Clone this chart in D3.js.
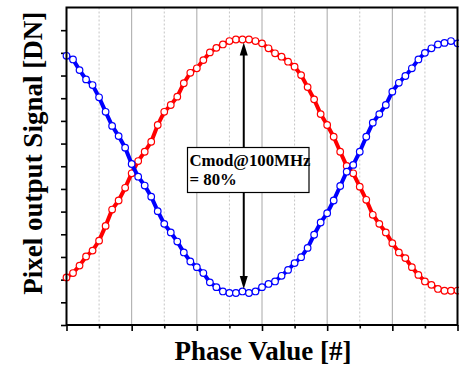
<html>
<head>
<meta charset="utf-8">
<script src="https://cdnjs.cloudflare.com/ajax/libs/d3/7.8.5/d3.min.js"></script>
<style>
  body { margin: 0; background: #fff; }
  text { font-family: "Times New Roman", "Liberation Serif", serif; font-weight: bold; }
</style>
</head>
<body>
<div id="chart"></div>
<script>
// phase steps 0..60, signal in DN
var phase = d3.range(0, 61);
var redSignal = [210, 229, 262, 302, 328, 372, 437, 509, 549, 605,
  669, 723, 764, 808, 882, 940, 970, 1007, 1066, 1112,
  1132, 1168, 1202, 1222, 1237, 1252, 1259, 1259, 1259, 1252,
  1242, 1220, 1198, 1183, 1161, 1139, 1102, 1049, 995, 930,
  882, 830, 764, 701, 669, 610, 552, 486, 446, 408,
  361, 320, 295, 255, 221, 192, 177, 159, 151, 151, 152];
var blueSignal = [1187, 1171, 1124, 1083, 1058, 1004, 940, 878, 833, 782,
  710, 654, 615, 566, 502, 446, 408, 368, 320, 280,
  255, 229, 188, 167, 148, 141, 141, 148, 141, 148,
  167, 181, 192, 217, 243, 273, 299, 340, 398, 452,
  493, 549, 613, 676, 706, 764, 830, 892, 930, 970,
  1029, 1068, 1098, 1132, 1171, 1200, 1220, 1237, 1244, 1252, 1242];
var majorX = [0, 10, 20, 30, 40, 50, 60];
var minorX = [5, 15, 25, 35, 45, 55];
var yTicks = d3.range(0, 1400, 100);
var annotation = ["Cmod@100MHz", "= 80%"];

var W = 459, H = 367;
var pLeft = 66.5, pRight = 457.5, pTop = 7.5, pBottom = 325;

var svg = d3.select("#chart").append("svg")
  .attr("width", W).attr("height", H);

var x = d3.scaleLinear().domain([0, 60]).range([pLeft, pRight]);
var y = d3.scaleLinear().domain([0, 1400]).range([pBottom, pTop]);

// vertical grid
svg.selectAll(".gmaj").data(majorX.slice(1, -1)).enter().append("line")
  .attr("x1", d => x(d)).attr("x2", d => x(d))
  .attr("y1", pTop).attr("y2", pBottom)
  .style("stroke", "#a8a8a8").style("stroke-width", 1);
svg.selectAll(".gmin").data(minorX).enter().append("line")
  .attr("x1", d => x(d)).attr("x2", d => x(d))
  .attr("y1", pTop).attr("y2", pBottom)
  .style("stroke", "#c4c4c4").style("stroke-width", 1)
  .style("stroke-dasharray", "2,2");

// axes (ticks only, no labels)
svg.append("g").attr("transform", "translate(0," + pBottom + ")")
  .call(d3.axisBottom(x).tickValues(majorX).tickSize(6).tickFormat(""))
  .call(g => g.select(".domain").remove())
  .selectAll("line").style("stroke-width", 1.6);
svg.append("g").attr("transform", "translate(0," + pBottom + ")")
  .call(d3.axisBottom(x).tickValues(minorX).tickSize(3.5).tickFormat(""))
  .call(g => g.select(".domain").remove())
  .selectAll("line").style("stroke-width", 1.6);
svg.append("g").attr("transform", "translate(" + pLeft + ",0)")
  .call(d3.axisLeft(y).tickValues(yTicks).tickSize(5.5).tickFormat(""))
  .call(g => g.select(".domain").remove())
  .selectAll("line").style("stroke-width", 1.6);

// curves
function drawSeries(vals, color) {
  var pts = phase.map((p, i) => [p, vals[i]]);
  var line = d3.line().x(d => x(d[0])).y(d => y(d[1]));
  svg.append("path").datum(pts).attr("d", line)
    .style("fill", "none").style("stroke", color).style("stroke-width", 4);
  svg.selectAll(null).data(pts).enter().append("circle")
    .attr("cx", d => x(d[0])).attr("cy", d => y(d[1])).attr("r", 3.3)
    .style("fill", "#fff").style("stroke", color).style("stroke-width", 1.2);
}
drawSeries(redSignal, "#ff0000");
drawSeries(blueSignal, "#0000ff");

// double arrow between red peak and blue dip
var ax = x(27.2);
var yTop = y(d3.max(redSignal)) + 3, yBot = y(d3.min(blueSignal)) - 4;
svg.append("line").attr("x1", ax).attr("x2", ax)
  .attr("y1", yTop + 10).attr("y2", yBot - 10)
  .style("stroke", "#000").style("stroke-width", 2);
svg.append("path")
  .attr("d", "M" + ax + "," + yTop + " L" + (ax - 4) + "," + (yTop + 13) + " L" + (ax + 4) + "," + (yTop + 13) + "Z")
  .style("fill", "#000");
svg.append("path")
  .attr("d", "M" + ax + "," + yBot + " L" + (ax - 4) + "," + (yBot - 13) + " L" + (ax + 4) + "," + (yBot - 13) + "Z")
  .style("fill", "#000");

// annotation box
svg.append("rect").attr("x", 187.5).attr("y", 147.5).attr("width", 121.5).attr("height", 45)
  .style("fill", "#fff").style("stroke", "#000").style("stroke-width", 1.2);
svg.selectAll(".ann").data(annotation).enter().append("text")
  .attr("x", 189.5).attr("y", (d, i) => 166 + i * 19)
  .style("font-size", "16.8px").text(d => d);

// frame
svg.append("rect").attr("x", pLeft).attr("y", pTop)
  .attr("width", pRight - pLeft).attr("height", pBottom - pTop)
  .style("fill", "none").style("stroke", "#000").style("stroke-width", 2);

// axis titles
svg.append("text").attr("x", 263).attr("y", 360)
  .attr("text-anchor", "middle").style("font-size", "27px")
  .text("Phase Value [#]");
svg.append("text").attr("transform", "translate(41.5," + ((pTop + pBottom) / 2 - 13) + ") rotate(-90)")
  .attr("text-anchor", "middle").style("font-size", "27px")
  .text("Pixel output Signal [DN]");
</script>
</body>
</html>
